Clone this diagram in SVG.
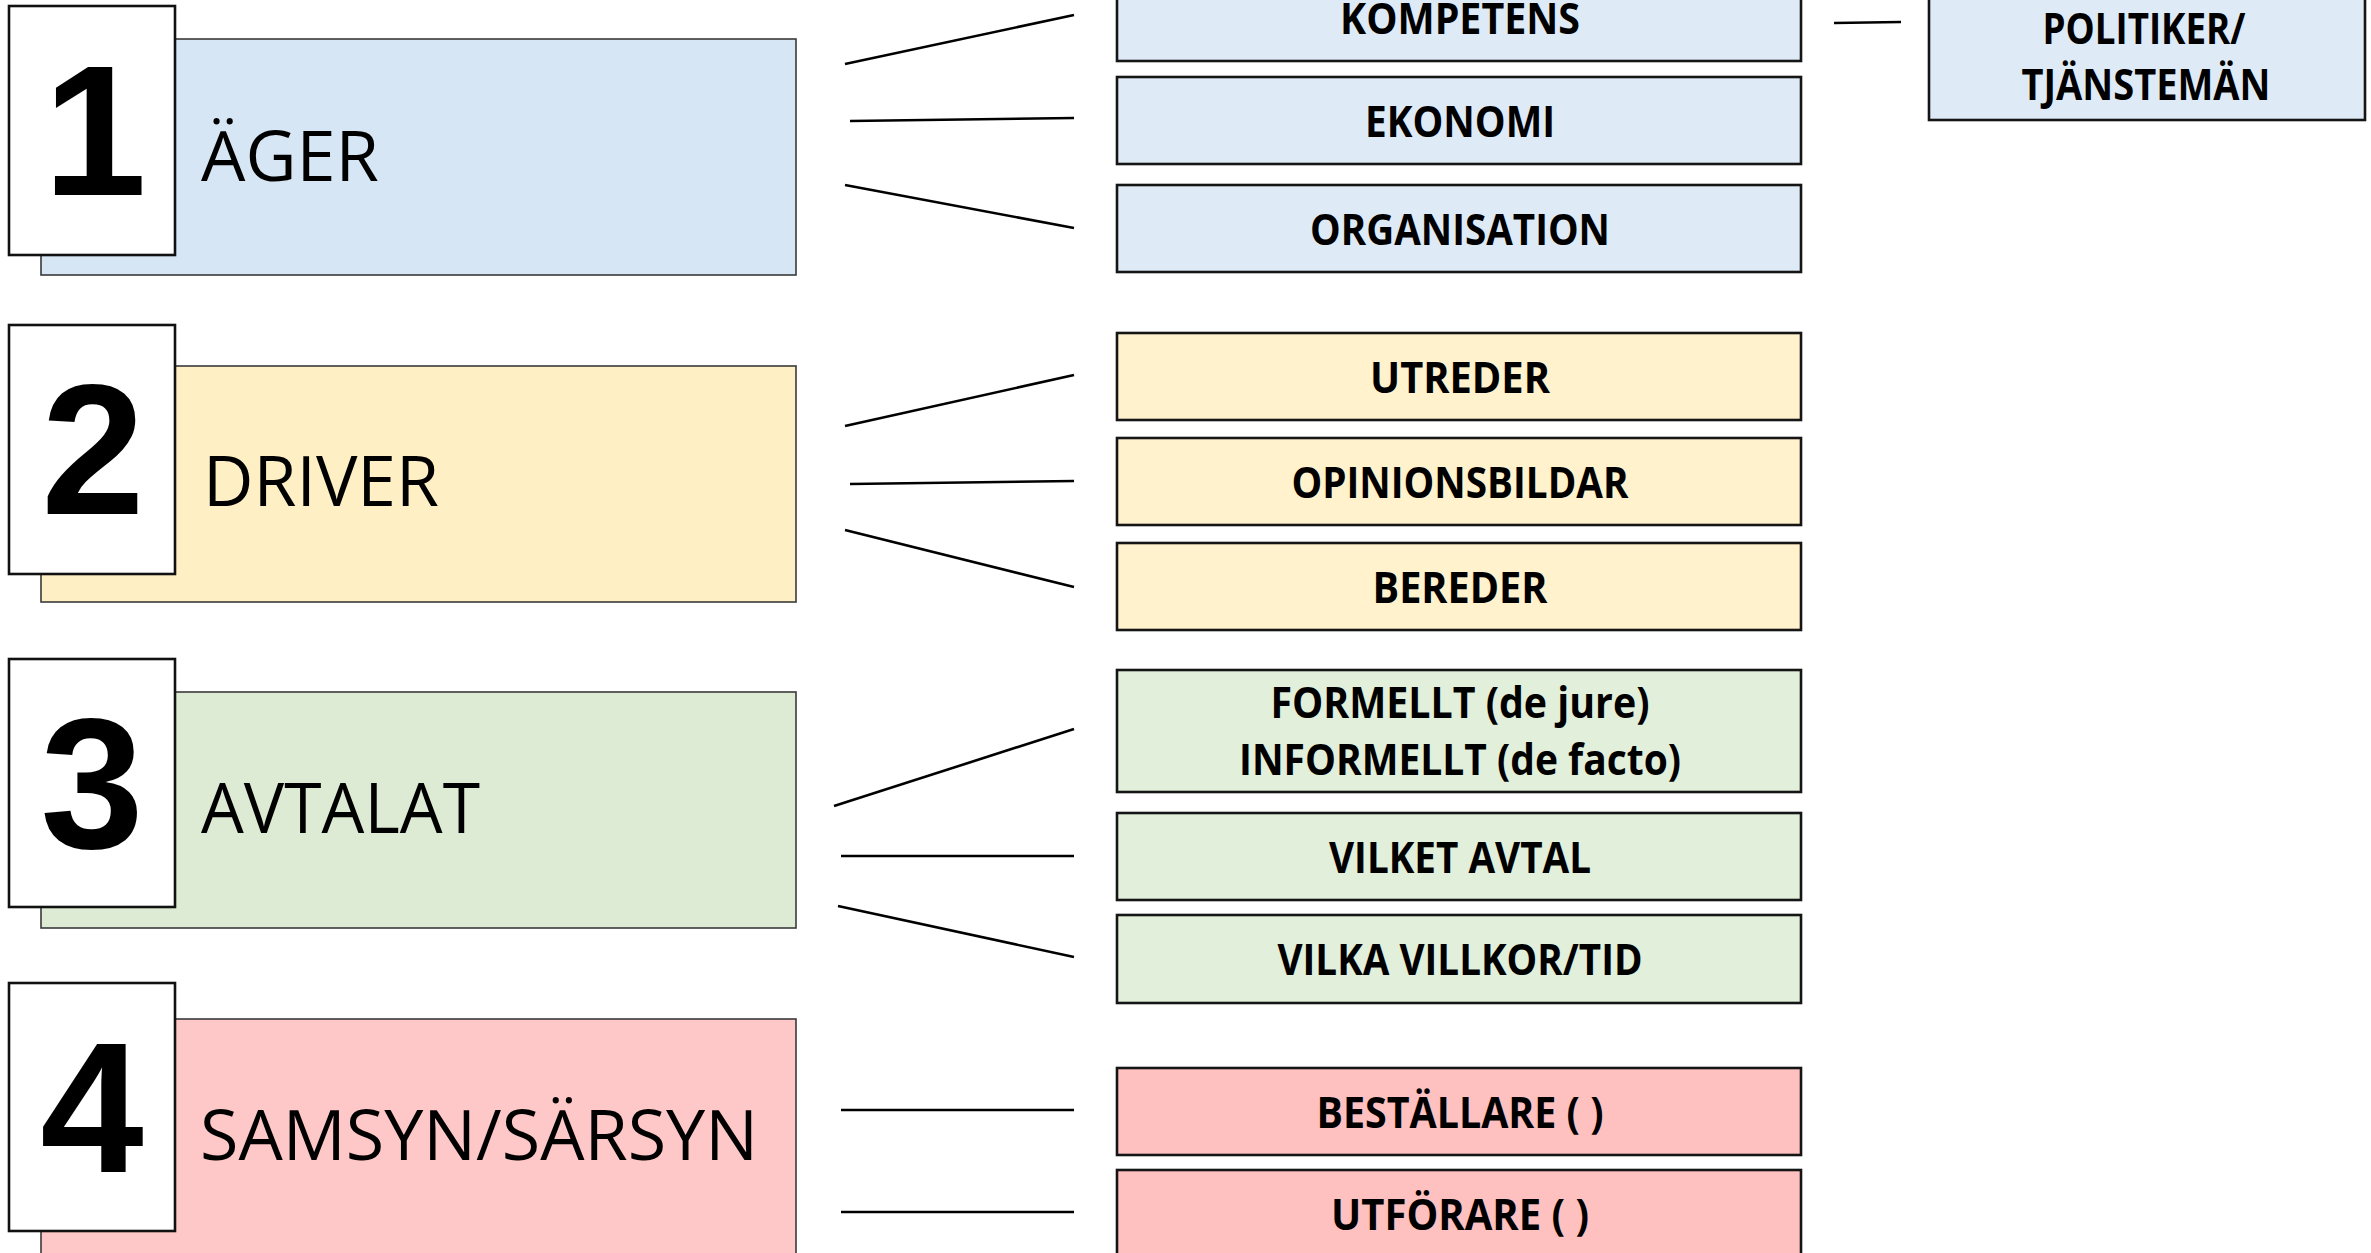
<svg xmlns="http://www.w3.org/2000/svg" width="2371" height="1253" viewBox="0 0 2371 1253">
<style>
.bg{stroke:#3a3a3a;stroke-width:1.6}
.num{fill:#fff;stroke:#111;stroke-width:2.6}
.box{stroke:#151515;stroke-width:2.6}
.digit{font-family:"Liberation Sans",Arial,sans-serif;font-weight:bold;font-size:186px;text-anchor:middle;fill:#000}
.lbl{font-family:"Open Sans","Noto Sans",sans-serif;font-size:70px;fill:#000}
.t{font-family:"Open Sans","Noto Sans",sans-serif;font-weight:bold;font-size:43px;fill:#000;text-anchor:middle}
.c1{fill:#D7E6F5}.r1{fill:#DEEBF7}
.c2{fill:#FFEFC4}.r2{fill:#FFF2CC}
.c3{fill:#DDEBD4}.r3{fill:#E2EFDA}
.c4{fill:#FFC8C8}.r4{fill:#FFC0C0}
#connectors line{stroke:#000;stroke-width:2.6;fill:none}
</style>
<rect width="2371" height="1253" fill="#fff"/>

<g id="connectors">
<line x1="845" y1="64" x2="1074" y2="15"/>
<line x1="850" y1="121" x2="1074" y2="118"/>
<line x1="845" y1="185" x2="1074" y2="228"/>
<line x1="1834" y1="23" x2="1901" y2="22"/>
<line x1="845" y1="426" x2="1074" y2="375"/>
<line x1="850" y1="484" x2="1074" y2="481"/>
<line x1="845" y1="530" x2="1074" y2="587"/>
<line x1="834" y1="806" x2="1074" y2="729"/>
<line x1="841" y1="856" x2="1074" y2="856"/>
<line x1="838" y1="906" x2="1074" y2="957"/>
<line x1="841" y1="1110" x2="1074" y2="1110"/>
<line x1="841" y1="1212" x2="1074" y2="1212"/>
</g>

<g id="n1">
<rect class="bg c1" x="41" y="39" width="755" height="236"/>
<rect class="num" x="9" y="6" width="166" height="249"/>
<text class="digit" x="95" y="195">1</text>
<text class="lbl" x="201" y="181" textLength="178" lengthAdjust="spacingAndGlyphs">ÄGER</text>
</g>
<g id="n2">
<rect class="bg c2" x="41" y="366" width="755" height="236"/>
<rect class="num" x="9" y="325" width="166" height="249"/>
<text class="digit" x="93" y="514">2</text>
<text class="lbl" x="203" y="506" textLength="236" lengthAdjust="spacingAndGlyphs">DRIVER</text>
</g>
<g id="n3">
<rect class="bg c3" x="41" y="692" width="755" height="236"/>
<rect class="num" x="9" y="659" width="166" height="248"/>
<text class="digit" x="92" y="848">3</text>
<text class="lbl" x="201" y="833" textLength="279" lengthAdjust="spacingAndGlyphs">AVTALAT</text>
</g>
<g id="n4">
<rect class="bg c4" x="41" y="1019" width="755" height="250"/>
<rect class="num" x="9" y="983" width="166" height="248"/>
<text class="digit" x="92" y="1172">4</text>
<text class="lbl" x="200" y="1160" textLength="558" lengthAdjust="spacingAndGlyphs">SAMSYN/SÄRSYN</text>
</g>

<g id="kompetens"><rect class="box r1" x="1117" y="-26" width="684" height="87"/><text class="t" x="1460" y="34" textLength="240" lengthAdjust="spacingAndGlyphs">KOMPETENS</text></g>
<g id="ekonomi"><rect class="box r1" x="1117" y="77" width="684" height="87"/><text class="t" x="1460" y="137" textLength="190" lengthAdjust="spacingAndGlyphs">EKONOMI</text></g>
<g id="organisation"><rect class="box r1" x="1117" y="185" width="684" height="87"/><text class="t" x="1460" y="245" textLength="300" lengthAdjust="spacingAndGlyphs">ORGANISATION</text></g>
<g id="politiker"><rect class="box r1" x="1929" y="-10" width="436" height="130"/><text class="t" x="2144" y="44" textLength="203" lengthAdjust="spacingAndGlyphs">POLITIKER/</text><text class="t" x="2146" y="100" textLength="249" lengthAdjust="spacingAndGlyphs">TJÄNSTEMÄN</text></g>

<g id="utreder"><rect class="box r2" x="1117" y="333" width="684" height="87"/><text class="t" x="1460" y="393" textLength="180" lengthAdjust="spacingAndGlyphs">UTREDER</text></g>
<g id="opinionsbildar"><rect class="box r2" x="1117" y="438" width="684" height="87"/><text class="t" x="1460" y="498" textLength="337" lengthAdjust="spacingAndGlyphs">OPINIONSBILDAR</text></g>
<g id="bereder"><rect class="box r2" x="1117" y="543" width="684" height="87"/><text class="t" x="1460" y="603" textLength="175" lengthAdjust="spacingAndGlyphs">BEREDER</text></g>

<g id="formellt"><rect class="box r3" x="1117" y="670" width="684" height="122"/><text class="t" x="1460" y="718" textLength="379" lengthAdjust="spacingAndGlyphs">FORMELLT (de jure)</text><text class="t" x="1460" y="775" textLength="442" lengthAdjust="spacingAndGlyphs">INFORMELLT (de facto)</text></g>
<g id="vilket"><rect class="box r3" x="1117" y="813" width="684" height="87"/><text class="t" x="1460" y="873" textLength="262" lengthAdjust="spacingAndGlyphs">VILKET AVTAL</text></g>
<g id="vilka"><rect class="box r3" x="1117" y="915" width="684" height="88"/><text class="t" x="1460" y="975" textLength="365" lengthAdjust="spacingAndGlyphs">VILKA VILLKOR/TID</text></g>

<g id="bestallare"><rect class="box r4" x="1117" y="1068" width="684" height="87"/><text class="t" x="1460" y="1128" textLength="287" lengthAdjust="spacingAndGlyphs">BESTÄLLARE ( )</text></g>
<g id="utforare"><rect class="box r4" x="1117" y="1170" width="684" height="95"/><text class="t" x="1460" y="1230" textLength="258" lengthAdjust="spacingAndGlyphs">UTFÖRARE ( )</text></g>
</svg>
